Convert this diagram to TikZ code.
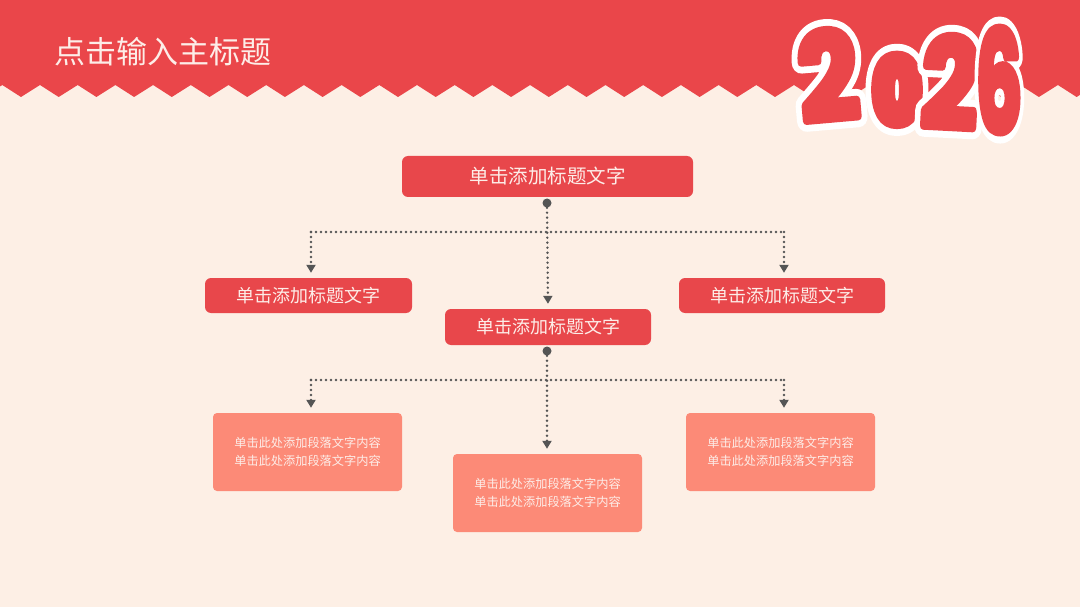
\documentclass[tikz,border=0pt]{standalone}
\usepackage{fontspec}
\setmainfont{Noto Sans CJK SC}
\newfontfamily\cjk{Noto Sans CJK SC}
\newfontfamily\numfont{Poppins}
\usetikzlibrary{arrows.meta}
\definecolor{bgcream}{HTML}{FDEFE5}
\definecolor{hdred}{HTML}{EA464A}
\definecolor{boxred}{HTML}{E8474B}
\definecolor{salmon}{HTML}{FC8A77}
\definecolor{lighttext}{HTML}{FDEDE8}
\definecolor{dotgray}{HTML}{555555}
\tikzset{
  redbox/.style={fill=boxred, rounded corners=6pt, inner sep=0pt, text=lighttext, font=\cjk\fontsize{18}{20}\selectfont},
  bigbox/.style={redbox, minimum width=291pt, minimum height=41pt, font=\cjk\fontsize{19.5}{22}\selectfont},
  midbox/.style={redbox, minimum width=207pt, minimum height=36pt},
  txtbox/.style={fill=salmon, rounded corners=4pt, inner sep=0pt, minimum width=189pt, minimum height=78pt, text=lighttext, align=center, font=\cjk\fontsize{12.2}{18}\selectfont},
  dotl/.style={draw=dotgray, line width=2.7pt, line cap=round, dash pattern=on 0pt off 5pt},
  arr/.style={-{Triangle[width=9pt,length=8pt]}, shorten >=5pt},
  knob/.style={circle, fill=dotgray, inner sep=0pt, minimum size=9pt},
  digw/.style={text=white, inner sep=0pt},
  digr/.style={text=hdred, inner sep=0pt},
}
% name, x, y, size, rotation, xscale, digit, red bold, white bold
\newcommand\mydigit[9]{%
  \begin{scope}[line join=round]
  \node[digw, rotate=#5, xscale=#6, font=\numfont\bfseries\fontsize{#4}{#4}\selectfont\addfontfeatures{FakeBold=#9}] (#1w) at (#2,#3) {#7};
  \node[digr, rotate=#5, xscale=#6, font=\numfont\bfseries\fontsize{#4}{#4}\selectfont\addfontfeatures{FakeBold=#8}] (#1) at (#2,#3) {#7};
  \end{scope}
}
\begin{document}
\begin{tikzpicture}[x=1pt,y=-1pt]
\useasboundingbox (0,0) rectangle (1080,607);
\fill[bgcream] (0,0) rectangle (1080,607);
\begin{scope}
\clip (0,0) rectangle (1080,607);
\fill[hdred] (-16.7,97) \foreach \k in {0,...,29} { -- ({2.3+37.7*\k},85) -- ({21+37.7*\k},97) } -- (1130,0) -- (-20,0) -- cycle;
\end{scope}

\node[anchor=west, text=lighttext, inner sep=0pt, font=\cjk\fontsize{31}{34}\selectfont] (title) at (54,52) {点击输入主标题};

% 2026
\mydigit{db}{897}{90}{86}{0}{0.82}{0}{17}{33}
\mydigit{da}{828}{75}{121}{5}{0.86}{2}{6.5}{17.8}
\mydigit{dc}{950}{82}{124}{-3}{0.8}{2}{6.5}{17.7}
\mydigit{dd}{999}{80}{140}{0}{0.52}{6}{5.8}{15.8}

% nodes
\node[bigbox] (top) at (547.5,176.5) {单击添加标题文字};
\node[midbox, minimum width=207pt, minimum height=35pt] (left) at (308.5,295.5) {单击添加标题文字};
\node[midbox, minimum width=206pt, minimum height=35pt] (right) at (782,295.5) {单击添加标题文字};
\node[midbox, minimum width=206pt, minimum height=36pt] (mid) at (548,327) {单击添加标题文字};
\node[txtbox] (tl) at (307.5,452) {单击此处添加段落文字内容\\单击此处添加段落文字内容};
\node[txtbox] (tr) at (780.5,452) {单击此处添加段落文字内容\\单击此处添加段落文字内容};
\node[txtbox] (tm) at (547.5,493) {单击此处添加段落文字内容\\单击此处添加段落文字内容};

\node[knob] (k1) at (547,203) {};
\node[knob] (k2) at (547,351) {};

\coordinate (h1l) at (311,232);
\coordinate (h1r) at (784,232);
\coordinate (h2l) at (311,380);
\coordinate (h2r) at (784,380);

\draw[dotl] (h1l) -- (h1r);
\draw[dotl, arr] (k1) -- (mid.north);
\draw[dotl, arr] (h1l) -- (h1l |- left.north);
\draw[dotl, arr] (h1r) -- (h1r |- right.north);

\draw[dotl] (h2l) -- (h2r);
\draw[dotl, arr] (k2) -- (k2 |- tm.north);
\draw[dotl, arr] (h2l) -- (h2l |- tl.north);
\draw[dotl, arr] (h2r) -- (h2r |- tr.north);
\end{tikzpicture}
\end{document}
